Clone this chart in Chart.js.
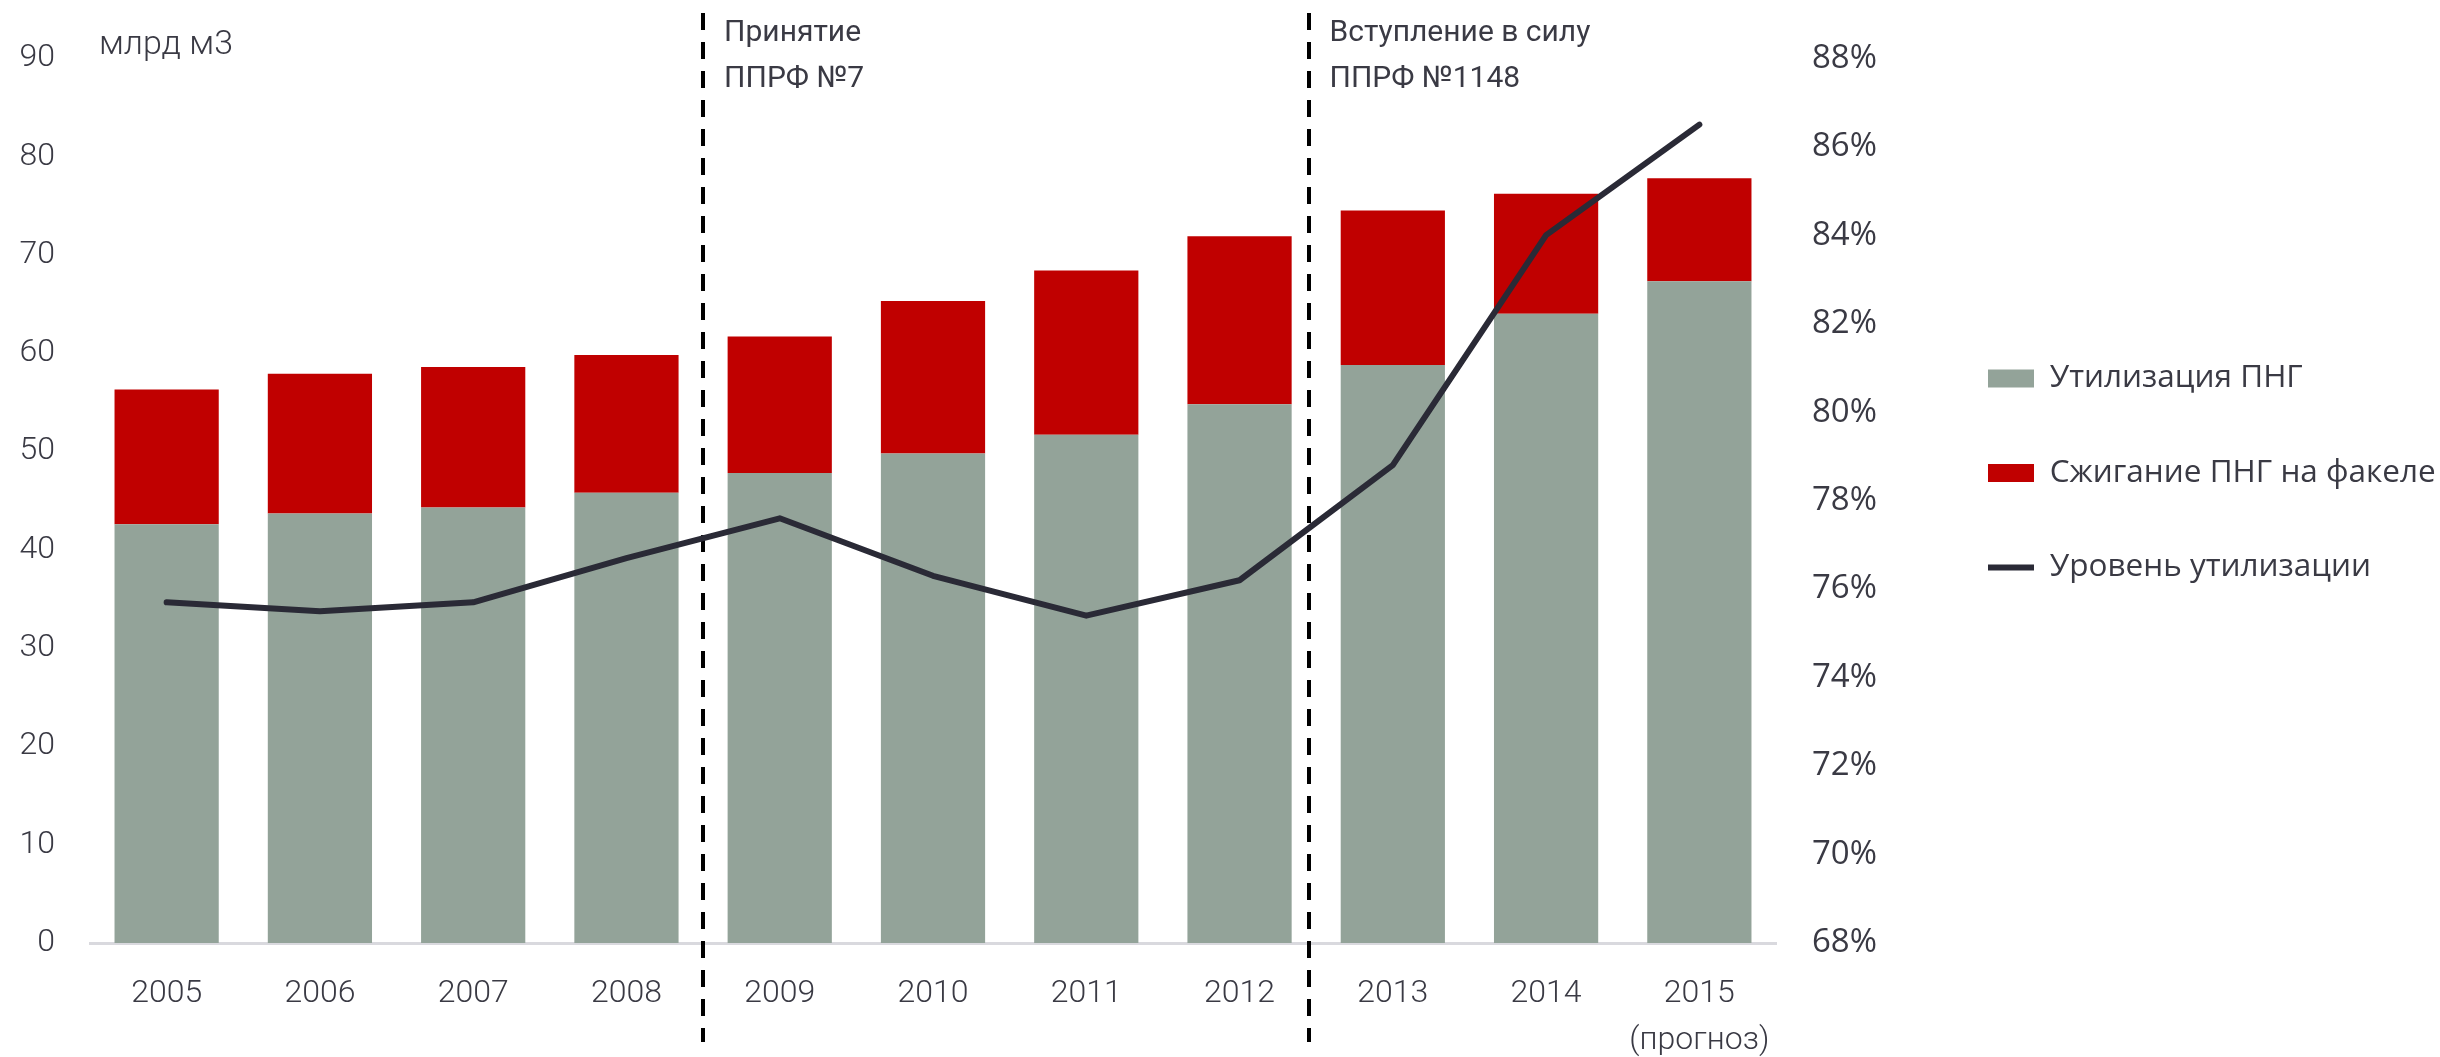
<!DOCTYPE html>
<html><head><meta charset="utf-8">
<script src="https://cdn.jsdelivr.net/npm/chart.js@4.4.1/dist/chart.umd.min.js"></script>
<style>html,body{margin:0;padding:0;background:#fff;overflow:hidden}</style>
</head><body>
<canvas id="c" width="2440" height="1057"></canvas>
<script>
// ---- data ----
const years = ['2005','2006','2007','2008','2009','2010','2011','2012','2013','2014',['2015','(прогноз)']];
const utilization = [42.6, 43.7, 44.3, 45.8, 47.8, 49.8, 51.7, 54.8, 58.8, 64.0, 67.3];
const flaring     = [13.7, 14.2, 14.3, 14.0, 13.9, 15.5, 16.7, 17.1, 15.7, 12.2, 10.5];
const utilizationRate = [75.7, 75.5, 75.7, 76.7, 77.6, 76.3, 75.4, 76.2, 78.8, 84.0, 86.5];
const seriesNames = ['Утилизация ПНГ', 'Сжигание ПНГ на факеле', 'Уровень утилизации'];
const unitLabel = 'млрд м3';
const eventLabels = [['Принятие', 'ППРФ №7'], ['Вступление в силу', 'ППРФ №1148']];
const eventPositions = [3.5, 7.45];
const leftAxisRange = [0, 90, 10];
const rightAxisRange = [68, 88, 2];

// ---- styles ----
const TXT = '#3a3a44';
const GRAY = '#93a399';
const RED = '#c00000';
const LINE = '#2a2a36';
const TICK_FONT = {family: 'Roboto', size: 32, weight: 300, lineHeight: 1.45};
const PCT_FONT = {family: 'Open Sans', size: 33};
const LEGEND_W = 515;

const overlay = {
  id: 'overlay',
  beforeLayout(chart) {
    const lg = chart.legend;
    if (lg && !lg.__wrapped) {
      const f = lg.fit;
      lg.fit = function () { f.call(this); this.width = LEGEND_W; };
      lg.__wrapped = true;
    }
  },
  afterLayout(chart) {
    const lg = chart.legend;
    const shift = 473 - (lg.top + lg.bottom) / 2;
    lg.top += shift; lg.bottom += shift;
  },
  beforeDatasetsDraw(chart) {
    const ctx = chart.ctx, x = chart.scales.x;
    ctx.save();
    ctx.strokeStyle = '#000';
    ctx.lineWidth = 4;
    ctx.setLineDash([17, 12]);
    eventPositions.forEach(p => {
      const px = Math.round(x.getPixelForValue(p));
      ctx.beginPath();
      ctx.moveTo(px, 13);
      ctx.lineTo(px, 1042);
      ctx.stroke();
    });
    ctx.restore();
  },
  afterDraw(chart) {
    const ctx = chart.ctx, x = chart.scales.x;
    ctx.save();
    ctx.fillStyle = TXT;
    ctx.textBaseline = 'alphabetic';
    ctx.font = '300 34px Roboto';
    ctx.fillText(unitLabel, 99, 54);
    ctx.font = '400 30px Roboto';
    eventPositions.forEach((p, i) => {
      const px = x.getPixelForValue(p) + 21;
      eventLabels[i].forEach((t, j) => ctx.fillText(t, px, 41 + j * 46));
    });
    ctx.restore();
  }
};

new Chart(document.getElementById('c'), {
  type: 'bar',
  data: {
    labels: years,
    datasets: [
      {type: 'bar', label: seriesNames[0], data: utilization, backgroundColor: GRAY, stack: 's', yAxisID: 'y', order: 2, barPercentage: 0.68, categoryPercentage: 1},
      {type: 'bar', label: seriesNames[1], data: flaring, backgroundColor: RED, stack: 's', yAxisID: 'y', order: 2, barPercentage: 0.68, categoryPercentage: 1},
      {type: 'line', label: seriesNames[2], data: utilizationRate, borderColor: LINE, backgroundColor: LINE, borderWidth: 6, pointRadius: 0, tension: 0, yAxisID: 'y1', order: 1, borderJoinStyle: 'round', borderCapStyle: 'round'}
    ]
  },
  options: {
    responsive: false, animation: false, devicePixelRatio: 1,
    layout: {padding: {top: 55, left: 0, right: 0, bottom: 0}},
    scales: {
      x: {
        stacked: true, offset: true,
        grid: {display: false, drawTicks: false},
        border: {display: true, color: '#d9d9de', width: 3},
        ticks: {font: TICK_FONT, color: TXT, padding: 28, maxRotation: 0, autoSkip: false},
        afterFit: s => { s.height = 114; }
      },
      y: {
        stacked: true, position: 'left', min: leftAxisRange[0], max: leftAxisRange[1],
        grid: {display: false, drawTicks: false}, border: {display: false},
        ticks: {stepSize: leftAxisRange[2], font: TICK_FONT, color: TXT, padding: 35},
        afterFit: s => { s.width = 90; }
      },
      y1: {
        position: 'right', min: rightAxisRange[0], max: rightAxisRange[1],
        grid: {display: false, drawTicks: false}, border: {display: false},
        ticks: {stepSize: rightAxisRange[2], font: PCT_FONT, color: TXT, padding: 36, callback: v => v + '%'},
        afterFit: s => { s.width = 149; }
      }
    },
    plugins: {
      tooltip: {enabled: false},
      legend: {
        position: 'right',
        labels: {
          usePointStyle: true, pointStyleWidth: 46, boxHeight: 18, padding: 63,
          font: {family: 'Open Sans', size: 31.5}, color: TXT,
          generateLabels(chart) {
            const items = Chart.defaults.plugins.legend.labels.generateLabels(chart);
            items.forEach(it => { it.pointStyle = chart.data.datasets[it.datasetIndex].type === 'line' ? 'line' : 'rect'; });
            items.sort((a, b) => a.datasetIndex - b.datasetIndex);
            return items;
          }
        }
      }
    }
  },
  plugins: [overlay]
});
</script>
</body></html>
